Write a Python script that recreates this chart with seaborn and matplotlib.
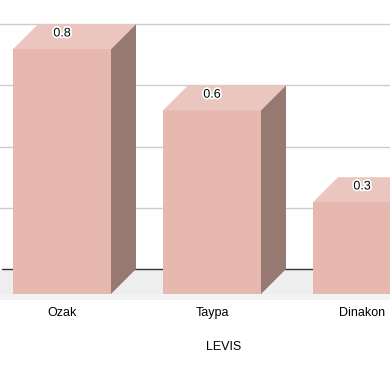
import matplotlib
matplotlib.use("Agg")
import matplotlib.pyplot as plt
import matplotlib.patheffects as pe
from matplotlib.patches import Polygon
import pandas as pd
import seaborn as sns

# -----------------------------------
# Data
# -----------------------------------

categories = ["Ozak", "Taypa", "Dinakon"]
values = [0.8, 0.6, 0.3]
grid_values = [0.2, 0.4, 0.6, 0.8]
x_title = "LEVIS"

# -----------------------------------
# Style
# -----------------------------------

sns.set_theme(style="white")
plt.rcParams["font.family"] = ["Liberation Sans", "DejaVu Sans"]

FRONT = "#e6b8b0"
TOP = "#eac6be"
SIDE = "#967a72"
FLOOR = "#eeeeee"
FLOOR_EDGE = "#f3f3f3"
GRID = "#cccccc"
DEPTH_PX = 25
DPI = 100

df = pd.DataFrame({"name": categories, "value": values})

fig = plt.figure(figsize=(3.9, 3.71), dpi=DPI)
ax = fig.add_axes([0, 77 / 371, 1, 294 / 371])

# pixel scales: 150 px per category, 306 px per unit
ax.set_xlim(-62 / 150, 328 / 150)
ax.set_ylim(0, 294 / 306)

dx = DEPTH_PX / 150
dy = DEPTH_PX / 306

# -----------------------------------
# Back plane grid and floor
# -----------------------------------

x_lo, x_hi = ax.get_xlim()

for v in grid_values:
    ax.axhline(v + dy, color=GRID, linewidth=1, zorder=0)

ax.plot([x_lo + 2 / 150, x_hi], [dy, dy], color="#333333", linewidth=1, zorder=1)

floor = Polygon(
    [(x_lo + 2 / 150, dy), (x_hi + dx, dy), (x_hi, 0), (x_lo - dx, 0)],
    closed=True, facecolor=FLOOR, edgecolor="none", zorder=0.5,
)
ax.add_patch(floor)

strip = Polygon(
    [(x_lo, 0), (x_hi, 0), (x_hi, -6 / 306), (x_lo, -6 / 306)],
    closed=True, facecolor=FLOOR_EDGE, edgecolor="none", zorder=0.5,
    clip_on=False,
)
ax.add_patch(strip)

# -----------------------------------
# Bars (front faces) + 3D faces
# -----------------------------------

sns.barplot(
    data=df, x="name", y="value", color=FRONT, saturation=1,
    width=98 / 150, ax=ax, zorder=3,
)

for p in ax.patches:
    if p in (floor, strip):
        continue
    p.set_edgecolor("none")
    p.set_facecolor(FRONT)
    x0 = p.get_x()
    x1 = x0 + p.get_width()
    h = p.get_height()
    top = Polygon(
        [(x0, h), (x1, h), (x1 + dx, h + dy), (x0 + dx, h + dy)],
        closed=True, facecolor=TOP, edgecolor="none", zorder=3,
    )
    side = Polygon(
        [(x1, 0), (x1 + dx, dy), (x1 + dx, h + dy), (x1, h)],
        closed=True, facecolor=SIDE, edgecolor="none", zorder=3,
    )
    ax.add_patch(top)
    ax.add_patch(side)

labels = ax.bar_label(
    ax.containers[0], labels=[f"{v:g}" for v in values],
    padding=7, fontsize=9, color="black", zorder=5,
)
for t in labels:
    t.set_path_effects([pe.withStroke(linewidth=2.5, foreground="white")])

ax.set_xlim(x_lo, x_hi)
ax.set_ylim(0, 294 / 306)

# -----------------------------------
# Axes text
# -----------------------------------

ax.set_ylabel("")
ax.set_yticks([])
ax.tick_params(axis="x", length=0, pad=9.5, labelsize=9, labelcolor="black")
ax.set_xlabel(x_title, fontsize=9, color="black")
ax.xaxis.set_label_coords(224 / 390, -0.16)
sns.despine(ax=ax, left=True, bottom=True)

fig.savefig("out.png", dpi=DPI)
